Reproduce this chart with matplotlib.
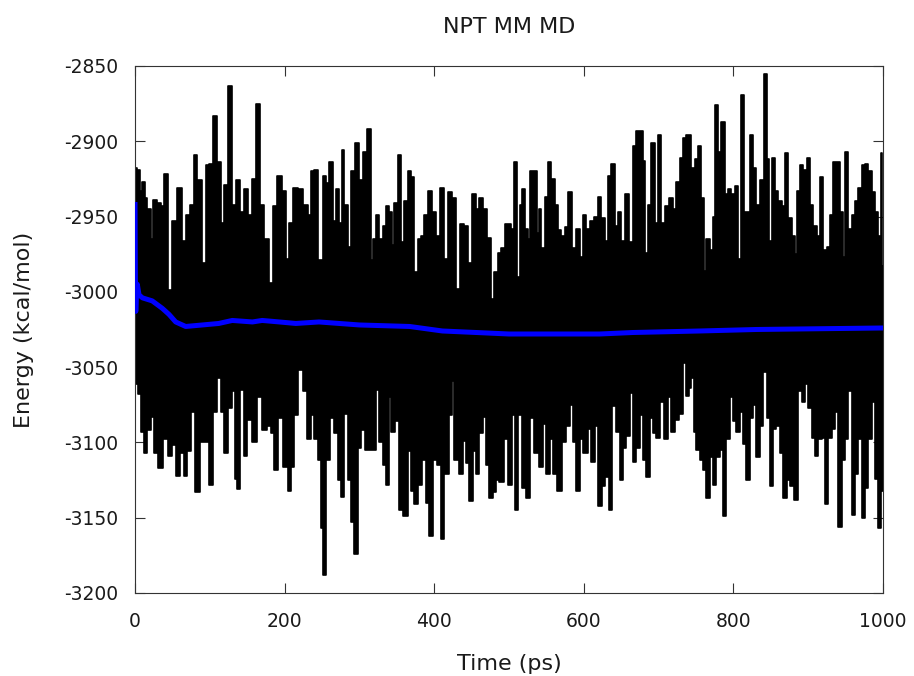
import matplotlib
matplotlib.use("Agg")
import matplotlib.pyplot as plt

plt.rcParams['font.family'] = ['DejaVu Sans']
plt.rcParams['axes.unicode_minus'] = False

# upper envelope of the instantaneous energy trace (ps, kcal/mol)
t_upper = [0, 1.8, 4.5, 7.6, 12.0, 14.3, 18.7, 23.2, 25.4, 32.1, 36.6, 41.0, 47.7, 52.2, 58.9, 65.6, 70.1, 76.7, 81.2, 85.7,
           92.4, 96.8, 101.3, 108.0, 112.4, 116.9, 121.4, 128.1, 132.5, 137.0, 143.7, 148.1, 154.8, 159.3, 165.1, 170.4, 174.9,
           183.8, 186.1, 192.8, 199.4, 203.9, 208.4, 215.1, 221.8, 228.5,
           232.9, 237.4, 241.8, 248.5, 253.0, 257.4, 261.9, 266.4, 270.8, 275.3, 277.5, 282.0, 286.4, 290.9, 297.6, 302.1, 306.5,
           313.2, 316.8, 319.9, 324.4, 328.8, 333.3, 337.8, 342.2, 344.5, 348.9, 353.4, 357.8, 362.3, 366.8, 371.2, 375.7, 380.1,
           384.6, 389.1, 393.5, 400.2, 404.7, 411.4, 415.8, 420.3, 427.0, 431.5, 438.2, 442.6, 447.1, 453.8, 458.2, 462.7, 467.2,
           473.8, 478.3, 482.8, 487.2, 491.7, 498.4,
           500.7, 505.1, 508.7, 513.2, 516.3, 519.4, 523.0, 526.6, 529.7, 535.5, 538.6, 540.8, 545.3, 549.8, 554.2, 558.7, 563.2,
           567.6, 572.1, 576.5, 581.9, 586.4, 592.2, 596.6, 601.1, 605.5, 610.0, 616.7, 621.2, 625.6, 630.1, 634.5, 639.0, 643.5,
           647.9, 652.4, 656.9, 663.5, 668.0, 672.5, 676.9, 680.1, 683.6, 688.1, 692.6, 697.0, 701.5, 705.9, 710.4, 717.1, 721.6,
           726.0, 730.5, 734.9, 739.4,
           741.6, 746.1, 750.5, 755.0, 758.6, 761.7, 766.1, 770.6, 773.7, 777.3, 781.8, 786.2, 790.7, 795.1, 799.6, 804.1, 808.5,
           812.1, 816.6, 821.0, 824.2, 828.6, 833.1, 837.5, 843.3, 846.5, 849.6, 853.2, 857.6, 862.1, 866.5, 871.0, 875.5, 879.9,
           883.5, 886.6, 891.1, 895.5, 900.0, 904.5, 908.9, 913.4, 917.8, 922.3, 926.8, 931.2, 935.7, 940.2, 944.6, 947.7, 951.3,
           955.8, 960.2, 964.7, 969.2, 973.6, 978.1, 982.6, 987.0, 991.5, 995.1, 998.2, 1000]
e_upper = [-2945, -2918, -2919, -2933, -2927, -2938, -2945, -2965, -2939, -2941, -2943, -2922, -2999, -2953, -2931, -2966, -2949,
           -2942, -2909, -2926, -2981, -2916, -2915, -2883, -2914, -2954, -2929, -2863, -2942, -2926, -2947, -2932, -2949, -2925,
           -2875, -2942, -2965, -2994, -2943, -2923, -2933, -2978, -2954, -2931, -2932, -2942,
           -2949, -2920, -2919, -2979, -2923, -2928, -2914, -2953, -2932, -2954, -2906, -2942, -2970, -2920, -2901, -2926, -2907,
           -2892, -2979, -2965, -2949, -2965, -2956, -2943, -2947, -2969, -2941, -2909, -2967, -2940, -2920, -2924, -2987, -2965,
           -2963, -2949, -2933, -2947, -2963, -2931, -2978, -2934, -2938, -2998, -2955, -2956, -2981, -2935, -2945, -2938, -2945,
           -2964, -3005, -2987, -2974, -2971, -2955,
           -2955, -2958, -2914, -2990, -2942, -2932, -2958, -2965, -2920, -2920, -2961, -2945, -2971, -2937, -2914, -2925, -2942,
           -2959, -2963, -2957, -2934, -2971, -2958, -2977, -2949, -2958, -2953, -2950, -2937, -2951, -2966, -2923, -2915, -2956,
           -2947, -2966, -2935, -2967, -2903, -2893, -2893, -2913, -2974, -2942, -2901, -2954, -2896, -2954, -2943, -2938, -2945,
           -2927, -2911, -2898, -2896,
           -2896, -2918, -2912, -2903, -2938, -2986, -2965, -2972, -2950, -2876, -2907, -2887, -2935, -2932, -2935, -2930, -2978,
           -2869, -2947, -2947, -2896, -2918, -2942, -2926, -2855, -2912, -2966, -2911, -2933, -2940, -2943, -2908, -2951, -2963,
           -2975, -2933, -2916, -2919, -2911, -2942, -2956, -2963, -2924, -2972, -2970, -2949, -2914, -2914, -2947, -2977, -2907,
           -2958, -2949, -2940, -2931, -2916, -2915, -2920, -2934, -2947, -2963, -2908, -2983]

# lower envelope of the same trace
t_lower = [0, 2.3, 5.4, 9.8, 14.3, 18.7, 23.2, 27.7, 34.4, 41.0, 47.7, 52.2, 56.7, 63.4, 67.8, 72.3, 76.7, 83.4, 90.1, 96.8,
           101.3, 108.0, 112.4, 116.9, 121.4, 128.1, 132.5, 134.8, 138.3, 143.7, 148.1, 152.6, 159.3, 166.0, 172.7, 179.4, 183.8,
           188.3, 195.0, 201.7, 206.1, 210.6, 215.1, 221.8, 226.2,
           232.9, 237.4, 241.8, 246.3, 250.7, 253.0, 257.4, 264.1, 268.6, 273.1, 277.5, 282.0, 286.4, 290.9, 295.4, 299.8, 304.3,
           311.0, 319.9, 324.4, 328.8, 333.3, 337.8, 340.0, 344.5, 351.2, 355.6, 362.3, 366.8, 371.2, 375.7, 380.1, 386.8, 391.3,
           395.8, 400.2, 406.9, 411.4, 415.8, 422.5, 424.8, 429.2, 435.9, 440.4, 444.8, 449.3, 453.8, 458.2, 462.7, 467.2, 471.6,
           476.1, 480.5, 485.0, 489.5, 496.2,
           500.7, 506.0, 509.6, 514.1, 519.4, 525.2, 529.7, 536.4, 543.1, 547.5, 552.0, 556.5, 560.9, 567.6, 574.3, 578.8, 583.2,
           587.7, 592.2, 596.6, 602.4, 607.8, 612.2, 616.7, 621.2, 626.5, 631.0, 635.4, 639.9, 645.7, 650.2, 654.6, 659.1, 663.5,
           668.0, 672.5, 676.9, 681.4, 685.9, 690.3, 694.8, 699.2, 703.7, 710.4, 714.9, 719.3, 723.8, 730.5, 734.9, 739.4,
           741.6, 745.2, 748.3, 752.8, 757.2, 761.7, 766.1, 770.6, 775.1, 779.5, 784.0, 788.5, 792.9, 797.4, 801.8, 806.3, 810.8,
           815.2, 819.7, 824.2, 828.6, 833.1, 837.5, 842.0, 846.5, 850.9, 855.4, 859.8, 864.3, 868.8, 873.2, 877.7, 884.4, 888.9,
           893.3, 897.8, 902.2, 906.7, 911.2, 915.6, 920.1, 924.5, 929.0, 933.5, 937.9, 942.4, 946.9, 951.3, 955.8, 960.2, 964.7,
           969.2, 973.6, 978.1, 982.6, 987.0, 991.5, 995.1, 998.2, 1000]
e_lower = [-3061, -3061, -3068, -3093, -3107, -3092, -3083, -3107, -3117, -3098, -3109, -3102, -3122, -3107, -3122, -3106, -3080,
           -3133, -3100, -3100, -3128, -3080, -3057, -3080, -3107, -3077, -3066, -3124, -3131, -3065, -3109, -3085, -3100, -3070,
           -3092, -3089, -3094, -3118, -3084, -3116, -3132, -3116, -3082, -3052, -3066,
           -3098, -3082, -3098, -3112, -3157, -3188, -3112, -3084, -3094, -3125, -3136, -3081, -3125, -3153, -3174, -3104, -3092,
           -3105, -3105, -3065, -3100, -3115, -3128, -3070, -3093, -3086, -3145, -3149, -3106, -3132, -3141, -3128, -3112, -3140,
           -3162, -3112, -3115, -3164, -3121, -3082, -3059, -3112, -3121, -3099, -3114, -3139, -3106, -3121, -3094, -3083, -3115,
           -3137, -3133, -3125, -3126, -3098,
           -3128, -3082, -3145, -3082, -3130, -3137, -3084, -3107, -3116, -3088, -3121, -3098, -3121, -3132, -3100, -3089, -3075,
           -3100, -3132, -3098, -3107, -3091, -3113, -3089, -3142, -3129, -3123, -3145, -3076, -3093, -3125, -3104, -3096, -3067,
           -3113, -3104, -3082, -3112, -3123, -3084, -3094, -3097, -3073, -3098, -3070, -3093, -3085, -3081, -3047, -3069,
           -3064, -3057, -3093, -3105, -3112, -3118, -3137, -3110, -3128, -3110, -3105, -3149, -3098, -3070, -3086, -3093, -3080,
           -3101, -3125, -3084, -3075, -3110, -3089, -3053, -3084, -3129, -3091, -3089, -3107, -3137, -3125, -3129, -3138, -3066,
           -3073, -3061, -3077, -3097, -3109, -3098, -3097, -3141, -3097, -3091, -3080, -3156, -3112, -3098, -3066, -3148, -3121,
           -3098, -3150, -3130, -3098, -3073, -3124, -3157, -3096, -3132]

# running average
t_avg = [0, 0.5, 1, 2, 3.1, 5.4, 10, 23, 36.6, 45.5, 54.4, 67.8, 90, 112, 130, 157, 170, 193, 215, 246, 300, 367, 411,
         456, 500, 550, 621, 666, 755, 831, 1000]
e_avg = [-2942, -2990, -3013, -3000, -2995, -3002, -3004, -3006, -3011, -3015, -3020, -3023, -3022, -3021, -3019, -3020,
         -3019, -3020, -3021, -3020, -3022, -3023, -3026, -3027, -3028, -3028, -3028, -3027, -3026, -3025, -3024]

band_mid = -3030  # level inside the band that both envelopes are filled to

fig = plt.figure(figsize=(9.14, 6.76), dpi=100)
ax = fig.add_axes([0.1477, 0.1228, 0.8184, 0.7796])

ax.fill_between(t_upper, e_upper, band_mid, step='mid', color='black', lw=0, zorder=2)
ax.fill_between(t_lower, band_mid, e_lower, step='mid', color='black', lw=0, zorder=2)
ax.plot(t_upper, e_upper, color='black', lw=1.2, drawstyle='steps-mid', zorder=2)
ax.plot(t_lower, e_lower, color='black', lw=1.2, drawstyle='steps-mid', zorder=2)
ax.plot(t_avg, e_avg, color='#0000ff', lw=3.6, zorder=3)

ax.set_xlim(0, 1000)
ax.set_ylim(-3200, -2850)
ax.set_xticks(range(0, 1001, 200))
ax.set_yticks(range(-3200, -2849, 50))
ax.tick_params(direction='in', length=7, width=0.8, top=True, right=True,
               labelsize=13.5, labelcolor='#1a1a1a', color='#333333')
ax.tick_params(axis='x', pad=14)
ax.tick_params(axis='y', pad=12)
for s in ax.spines.values():
    s.set_linewidth(0.8)
    s.set_color('#333333')

ax.set_title('NPT MM MD', fontsize=16, pad=24, color='#1a1a1a')
ax.set_xlabel('Time (ps)', fontsize=16, labelpad=16, color='#1a1a1a')
ax.set_ylabel('Energy (kcal/mol)', fontsize=16, labelpad=22, color='#1a1a1a')

fig.savefig('out.png', dpi=100)
